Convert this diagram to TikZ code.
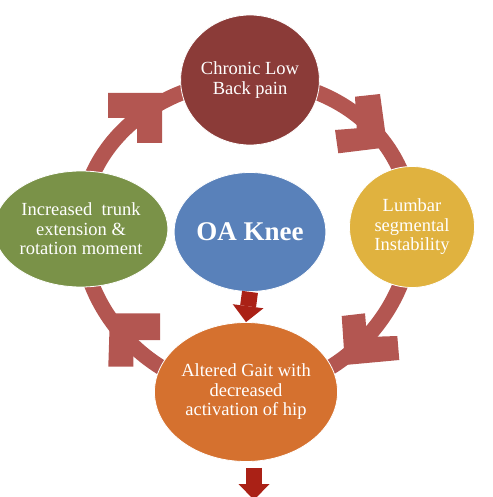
\documentclass[tikz,border=0pt]{standalone}
\usepackage{fontspec}
\setmainfont{Liberation Serif}
\usepackage{tikz}
\usetikzlibrary{shapes,arrows.meta,calc,positioning,backgrounds}
\definecolor{painred}{RGB}{139,59,56}
\definecolor{ringred}{RGB}{179,86,81}
\definecolor{trunkgreen}{RGB}{122,146,72}
\definecolor{kneeblue}{RGB}{89,129,186}
\definecolor{lumbaryellow}{RGB}{224,178,63}
\definecolor{gaitorange}{RGB}{213,113,47}
\definecolor{flowred}{RGB}{170,33,22}

\begin{document}
\begin{tikzpicture}[x=1pt,y=-1pt,
  every node/.append style={font=\fontsize{18.5}{19.5}\selectfont,text=white},
  stage/.style={ellipse,draw=white,line width=0.8pt,inner sep=0pt,align=center}]
  \tikzstyle{ring} = [draw=ringred,line width=15.5pt]
  \tikzstyle{barb} = [fill=ringred]
  \tikzstyle{flow} = [flowred,line width=16pt,-{Triangle[width=31pt,length=16pt,line width=0pt]}]
  \useasboundingbox (0,0) rectangle (492,497);
  \node (pain) [stage,fill=painred,minimum width=130pt,minimum height=130pt] at (250,80) {Chronic Low\\Back pain};
  \node (lumbar) [stage,fill=lumbaryellow,minimum width=125pt,minimum height=121pt] at (412,227) {Lumbar\\segmental\\Instability};
  \node (gait) [stage,fill=gaitorange,minimum width=154pt,minimum height=139pt] at (246,392) {Altered Gait with\\decreased\\activation of hip};
  \node (trunk) [stage,fill=trunkgreen,minimum width=142pt,minimum height=116pt] at (81,229) {Increased\ \ trunk\\extension \&\\rotation moment};
  \node (oa) [stage,fill=kneeblue,minimum width=134pt,minimum height=119pt,font=\fontsize{27}{30}\selectfont\bfseries] at (250,232) {OA Knee};
  \coordinate (next) at (254,500);
  \begin{scope}[on background layer]
    \draw[ring] (pain.center) .. controls +(90,0) and +(0,-85) .. (lumbar.center)
      .. controls +(0,85) and +(90,0) .. (gait.center)
      .. controls +(-90,0) and +(0,85) .. (trunk.center)
      .. controls +(0,-85) and +(-90,0) .. (pain.center);
    \fill[barb] (108,93) -- (162,93) -- (162,143) -- (137,143) -- (137,118) -- (108,118) -- cycle;
    \fill[barb] (355,96.7) -- (380,94) -- (387.3,147.3) -- (338.3,153.3) -- (335,130) -- (356.7,128.3) -- cycle;
    \fill[barb] (341.7,316) -- (365,313.3) -- (367,337) -- (397.3,336) -- (399.3,360) -- (345,365) -- cycle;
    \fill[barb] (110,313.3) -- (160,313.3) -- (160,340) -- (133.3,340) -- (133.3,366.7) -- (108.3,366.7) -- cycle;
  \end{scope}
  \draw[flow] (oa.south) -- (gait.north);
  \draw[flow] ($(gait.south -| next)+(0,6)$) -- (next);
\end{tikzpicture}
\end{document}
